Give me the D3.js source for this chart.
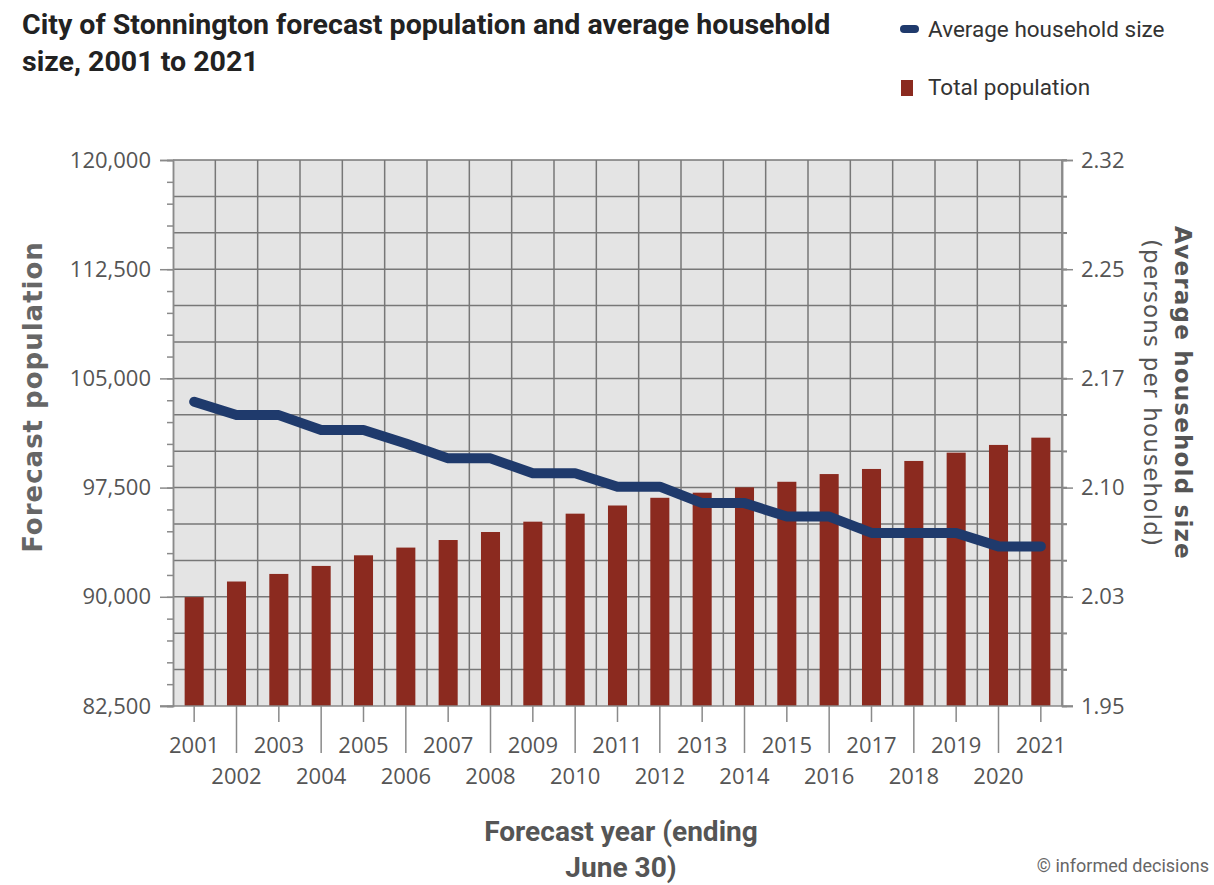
<!DOCTYPE html>
<html>
<head>
<meta charset="utf-8">
<script src="https://cdn.jsdelivr.net/npm/d3@7"></script>
<style>
  body { margin: 0; background: #fff; }
  svg text { font-family: "Open Sans", sans-serif; }
</style>
</head>
<body>
<div id="chart"></div>
<script>
const years = [2001, 2002, 2003, 2004, 2005, 2006, 2007, 2008, 2009, 2010, 2011,
  2012, 2013, 2014, 2015, 2016, 2017, 2018, 2019, 2020, 2021]
const population = [89980, 91050, 91570, 92120, 92850, 93380, 93900, 94450, 95160, 95710, 96270,
  96800, 97150, 97520, 97900, 98430, 98780, 99330, 99900, 100430, 100930]
const householdSize = [2.158, 2.149, 2.149, 2.139, 2.139, 2.130, 2.120, 2.120, 2.110, 2.110, 2.101,
  2.101, 2.090, 2.090, 2.081, 2.081, 2.070, 2.070, 2.070, 2.061, 2.061]
const popTicks = [82500, 90000, 97500, 105000, 112500, 120000]
const sizeDomain = [1.954, 2.32]

const width = 1214
const height = 885
const plot = {left: 173, right: 1062, top: 160, bottom: 706}

const barColor = "#8b2a1f"
const lineColor = "#1f3a6c"
const gridColor = "#777"
const axisColor = "#8a8a8a"
const labelColor = "#555"

const svg = d3.select("#chart")
  .append("svg")
  .attr("width", width)
  .attr("height", height)

const x = d3.scaleBand()
  .domain(years)
  .range([plot.left, plot.right])
  .padding(0)

const yPop = d3.scaleLinear()
  .domain([popTicks[0], popTicks[popTicks.length - 1]])
  .range([plot.bottom, plot.top])

const ySize = d3.scaleLinear()
  .domain(sizeDomain)
  .range([plot.bottom, plot.top])

// background
svg.append("rect")
  .attr("x", plot.left)
  .attr("y", plot.top)
  .attr("width", plot.right - plot.left)
  .attr("height", plot.bottom - plot.top)
  .attr("fill", "#e4e4e4")

// horizontal grid, every third of a major step
const gridValues = d3.range(popTicks[0] + 2500, popTicks[popTicks.length - 1] + 1, 2500)
svg.append("g")
  .selectAll("line")
  .data(gridValues)
  .join("line")
  .attr("x1", plot.left)
  .attr("x2", plot.right + 5)
  .attr("y1", d => yPop(d))
  .attr("y2", d => yPop(d))
  .attr("stroke", gridColor)
  .attr("stroke-width", 1.5)

// vertical grid on band edges
svg.append("g")
  .selectAll("line")
  .data(years.slice(1))
  .join("line")
  .attr("x1", d => x(d))
  .attr("x2", d => x(d))
  .attr("y1", plot.top)
  .attr("y2", plot.bottom)
  .attr("stroke", gridColor)
  .attr("stroke-width", 1.5)

svg.append("line")
  .attr("x1", plot.right).attr("x2", plot.right)
  .attr("y1", plot.top).attr("y2", plot.bottom)
  .attr("stroke", gridColor)
  .attr("stroke-width", 1.5)

// bars
const barWidth = x.bandwidth() * 0.45
svg.append("g")
  .selectAll("rect")
  .data(years)
  .join("rect")
  .attr("x", d => x(d) + (x.bandwidth() - barWidth) / 2)
  .attr("y", (d, i) => yPop(population[i]))
  .attr("width", barWidth)
  .attr("height", (d, i) => yPop(popTicks[0]) - yPop(population[i]))
  .attr("fill", barColor)

// household size line
const line = d3.line()
  .x(d => x(d[0]) + x.bandwidth() / 2)
  .y(d => ySize(d[1]))

svg.append("path")
  .datum(years.map((d, i) => [d, householdSize[i]]))
  .attr("d", line)
  .attr("fill", "none")
  .attr("stroke", lineColor)
  .attr("stroke-width", 10)
  .attr("stroke-linejoin", "round")
  .attr("stroke-linecap", "round")

function styleAxis(g) {
  g.select(".domain").attr("stroke", axisColor).attr("stroke-width", 1.5)
  g.selectAll(".tick line").attr("stroke", axisColor).attr("stroke-width", 1.5)
  g.selectAll(".tick text")
    .attr("fill", labelColor)
    .style("font-size", "22px")
}

// left axis
const leftMinor = svg.append("g")
  .attr("transform", `translate(${plot.left},0)`)
  .call(d3.axisLeft(yPop)
    .tickValues(d3.range(popTicks[0], popTicks[popTicks.length - 1] + 1, 1500))
    .tickSize(6)
    .tickFormat(""))
styleAxis(leftMinor)

const leftAxis = svg.append("g")
  .attr("transform", `translate(${plot.left},0)`)
  .call(d3.axisLeft(yPop)
    .tickValues(popTicks)
    .tickSize(13)
    .tickPadding(9)
    .tickFormat(d3.format(",")))
styleAxis(leftAxis)

// right axis
const sizeTicks = d3.range(6).map(i => d3.interpolateNumber(sizeDomain[0], sizeDomain[1])(i / 5))
const rightMinor = svg.append("g")
  .attr("transform", `translate(${plot.right},0)`)
  .call(d3.axisRight(ySize)
    .tickValues(gridValues.map(v => ySize.invert(yPop(v))))
    .tickSize(5)
    .tickFormat(""))
styleAxis(rightMinor)

const rightAxis = svg.append("g")
  .attr("transform", `translate(${plot.right},0)`)
  .call(d3.axisRight(ySize)
    .tickValues(sizeTicks)
    .tickSize(11)
    .tickPadding(8)
    .tickFormat(d3.format(".2f")))
styleAxis(rightAxis)

// bottom axis: odd years on first row, even years on second row
const oddYears = years.filter(d => d % 2 === 1)
const evenYears = years.filter(d => d % 2 === 0)

const bottomOdd = svg.append("g")
  .attr("transform", `translate(0,${plot.bottom})`)
  .call(d3.axisBottom(x).tickValues(oddYears).tickSize(16).tickSizeOuter(0))
styleAxis(bottomOdd)
bottomOdd.select(".domain")
  .attr("d", `M${plot.left - 13},0H${plot.right + 11}`)
bottomOdd.selectAll(".tick text").attr("y", 47).attr("dy", null)

const bottomEven = svg.append("g")
  .attr("transform", `translate(0,${plot.bottom})`)
  .call(d3.axisBottom(x).tickValues(evenYears).tickSize(47))
styleAxis(bottomEven)
bottomEven.select(".domain").remove()
bottomEven.selectAll(".tick text").attr("y", 78).attr("dy", null)

// titles
const title = svg.append("text")
  .attr("transform", "translate(22,0) scale(1.02,1)")
  .style("font-family", "Roboto, sans-serif")
  .style("font-weight", 700)
  .style("font-size", "28px")
  .attr("fill", "#222")
title.append("tspan").attr("x", 0).attr("y", 34)
  .text("City of Stonnington forecast population and average household")
title.append("tspan").attr("x", 0).attr("y", 71)
  .text("size, 2001 to 2021")

svg.append("text")
  .attr("transform", `translate(42,${(plot.top + plot.bottom) / 2 - 36}) rotate(-90)`)
  .attr("text-anchor", "middle")
  .style("font-family", "DejaVu Sans, sans-serif")
  .style("font-weight", 700)
  .style("font-size", "26px")
  .style("letter-spacing", "1px")
  .attr("fill", "#666")
  .text("Forecast population")

const rightTitle = svg.append("text")
  .attr("transform", `translate(1144,${(plot.top + plot.bottom) / 2 - 40}) rotate(90)`)
  .attr("text-anchor", "middle")
  .style("font-family", "DejaVu Sans, sans-serif")
  .style("font-size", "23px")
  .style("letter-spacing", "1.2px")
  .attr("fill", "#555")
rightTitle.append("tspan").attr("x", 0).attr("y", 0).text("(persons per household)")
rightTitle.append("tspan").attr("x", 0).attr("y", -31).style("font-weight", 600).text("Average household size")

const xTitle = svg.append("text")
  .attr("transform", "translate(621,0) scale(1.04,1)")
  .attr("text-anchor", "middle")
  .style("font-family", "Roboto, sans-serif")
  .style("font-weight", 700)
  .style("font-size", "27px")
  .attr("fill", "#555")
xTitle.append("tspan").attr("x", 0).attr("y", 841).text("Forecast year (ending")
xTitle.append("tspan").attr("x", 0).attr("y", 877).text("June 30)")

svg.append("text")
  .attr("x", 1209)
  .attr("y", 872)
  .attr("text-anchor", "end")
  .style("font-family", "Roboto, sans-serif")
  .style("font-size", "18px")
  .attr("fill", "#666")
  .text("© informed decisions")

// legend
const legend = svg.append("g")
legend.append("line")
  .attr("x1", 904).attr("x2", 915)
  .attr("y1", 29).attr("y2", 29)
  .attr("stroke", lineColor)
  .attr("stroke-width", 8)
  .attr("stroke-linecap", "round")
legend.append("rect")
  .attr("x", 901).attr("y", 80)
  .attr("width", 12).attr("height", 16)
  .attr("fill", barColor)
legend.selectAll("text.legend")
  .data(["Average household size", "Total population"])
  .join("text")
  .attr("class", "legend")
  .attr("x", 928)
  .attr("y", (d, i) => 37 + i * 58)
  .style("font-family", "Roboto, sans-serif")
  .style("font-size", "22.5px")
  .attr("fill", "#333")
  .text(d => d)
</script>
</body>
</html>
